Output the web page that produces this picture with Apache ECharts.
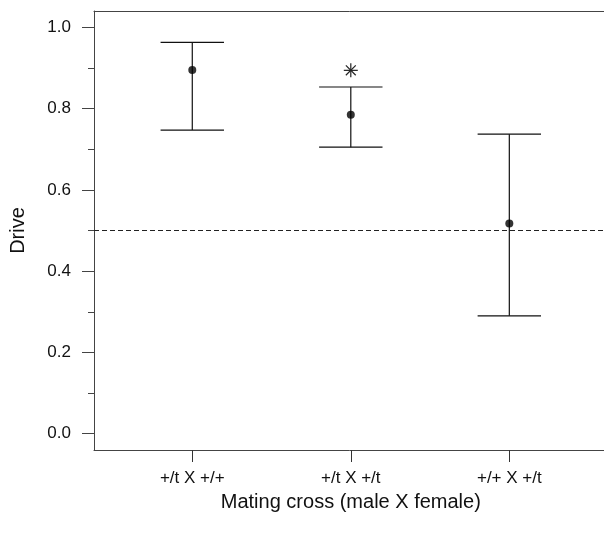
<!DOCTYPE html>
<html>
<head>
<meta charset="utf-8">
<script src="https://cdn.jsdelivr.net/npm/echarts@6/dist/echarts.min.js"></script>
<style>
  html, body { margin: 0; padding: 0; background: #fff; }
  #chart { width: 604px; height: 536px; }
</style>
</head>
<body>
<div id="chart"></div>
<script>
// data
const categories = ['+/t X +/+', '+/t X +/t', '+/+ X +/t'];
const means = [0.895, 0.785, 0.517];
const lower = [0.747, 0.705, 0.290];
const upper = [0.963, 0.853, 0.737];
const yTicks = [0, 0.2, 0.4, 0.6, 0.8, 1.0];
const yMinorTicks = [0.1, 0.3, 0.5, 0.7, 0.9];
const referenceLevel = 0.5;
// significance marker (asterisk) above the second cross
const starIndex = [1];
const starValue = [0.894];

const FONT = "'Liberation Sans', Arial, sans-serif";
const INK = '#111';
const FRAME = '#444';
const capHalf = 0.2; // half width of error bar caps, in x units

const chart = echarts.init(document.getElementById('chart'), null, { renderer: 'canvas' });

// x positions are 1..n
const xPos = categories.map((c, i) => i + 1);

chart.setOption({
  animation: false,
  backgroundColor: '#fff',
  grid: {
    left: 94, top: 11, width: 513.6, height: 439,
    outerBoundsMode: 'none',
    containLabel: false,
    show: false
  },
  xAxis: [{
    type: 'value',
    min: 0.38, max: 3.62,
    name: 'Mating cross (male X female)',
    nameLocation: 'middle',
    nameGap: 42,
    nameTextStyle: { fontFamily: FONT, fontSize: 20, color: INK },
    axisLine: { show: true, onZero: false, lineStyle: { color: FRAME } },
    axisTick: { show: true, length: 12, customValues: xPos, lineStyle: { color: '#333' } },
    axisLabel: {
      customValues: xPos,
      formatter: v => categories[Math.round(v) - 1] || '',
      fontFamily: FONT, fontSize: 17, color: INK, margin: 20
    },
    splitLine: { show: false }
  }, {
    // top edge of the plot box only
    type: 'value',
    position: 'top',
    min: 0.38, max: 3.62,
    axisLine: { show: true, onZero: false, lineStyle: { color: FRAME } },
    axisTick: { show: false },
    axisLabel: { show: false },
    splitLine: { show: false }
  }],
  yAxis: [{
    type: 'value',
    min: -0.04, max: 1.04,
    name: 'Drive',
    nameLocation: 'middle',
    nameGap: 66,
    nameTextStyle: { fontFamily: FONT, fontSize: 20, color: INK },
    axisLine: { show: true, onZero: false, lineStyle: { color: FRAME } },
    axisTick: { show: true, length: 12, customValues: yTicks, lineStyle: { color: FRAME } },
    axisLabel: {
      customValues: yTicks,
      formatter: v => v.toFixed(1),
      fontFamily: FONT, fontSize: 17, color: INK, margin: 23
    },
    splitLine: { show: false }
  }, {
    type: 'value',
    min: -0.04, max: 1.04,
    position: 'left',
    axisLine: { show: false },
    axisTick: { show: true, length: 6, customValues: yMinorTicks, lineStyle: { color: FRAME } },
    axisLabel: { show: false },
    splitLine: { show: false }
  }],
  series: [{
    type: 'custom',
    renderItem: (params, api) => {
      const x = api.value(0), lo = api.value(1), hi = api.value(2);
      const pLo = api.coord([x, lo]);
      const pHi = api.coord([x, hi]);
      const xl = api.coord([x - capHalf, hi])[0];
      const xr = api.coord([x + capHalf, hi])[0];
      const st = { stroke: INK, lineWidth: 1.2 };
      return {
        type: 'group',
        children: [
          { type: 'line', shape: { x1: pLo[0], y1: pLo[1], x2: pHi[0], y2: pHi[1] }, style: st },
          { type: 'line', shape: { x1: xl, y1: pHi[1], x2: xr, y2: pHi[1] }, style: st },
          { type: 'line', shape: { x1: xl, y1: pLo[1], x2: xr, y2: pLo[1] }, style: st }
        ]
      };
    },
    data: xPos.map((x, i) => [x, lower[i], upper[i]]),
    z: 2
  }, {
    type: 'scatter',
    symbol: 'circle',
    symbolSize: 8,
    itemStyle: { color: '#000' },
    data: xPos.map((x, i) => [x, means[i]]),
    markLine: {
      silent: true,
      symbol: 'none',
      label: { show: false },
      lineStyle: { color: '#222', width: 1, type: [5, 3] },
      data: [{ yAxis: referenceLevel }]
    },
    z: 3
  }, {
    type: 'custom',
    renderItem: (params, api) => {
      const p = api.coord([api.value(0), api.value(1)]);
      const r = 7, d = r * 0.7071;
      const st = { stroke: '#222', lineWidth: 1.2 };
      return {
        type: 'group',
        children: [
          { type: 'line', shape: { x1: p[0] - r, y1: p[1], x2: p[0] + r, y2: p[1] }, style: st },
          { type: 'line', shape: { x1: p[0], y1: p[1] - r, x2: p[0], y2: p[1] + r }, style: st },
          { type: 'line', shape: { x1: p[0] - d, y1: p[1] - d, x2: p[0] + d, y2: p[1] + d }, style: st },
          { type: 'line', shape: { x1: p[0] - d, y1: p[1] + d, x2: p[0] + d, y2: p[1] - d }, style: st }
        ]
      };
    },
    data: starIndex.map((i, k) => [xPos[i], starValue[k]]),
    z: 3
  }]
});
</script>
</body>
</html>
